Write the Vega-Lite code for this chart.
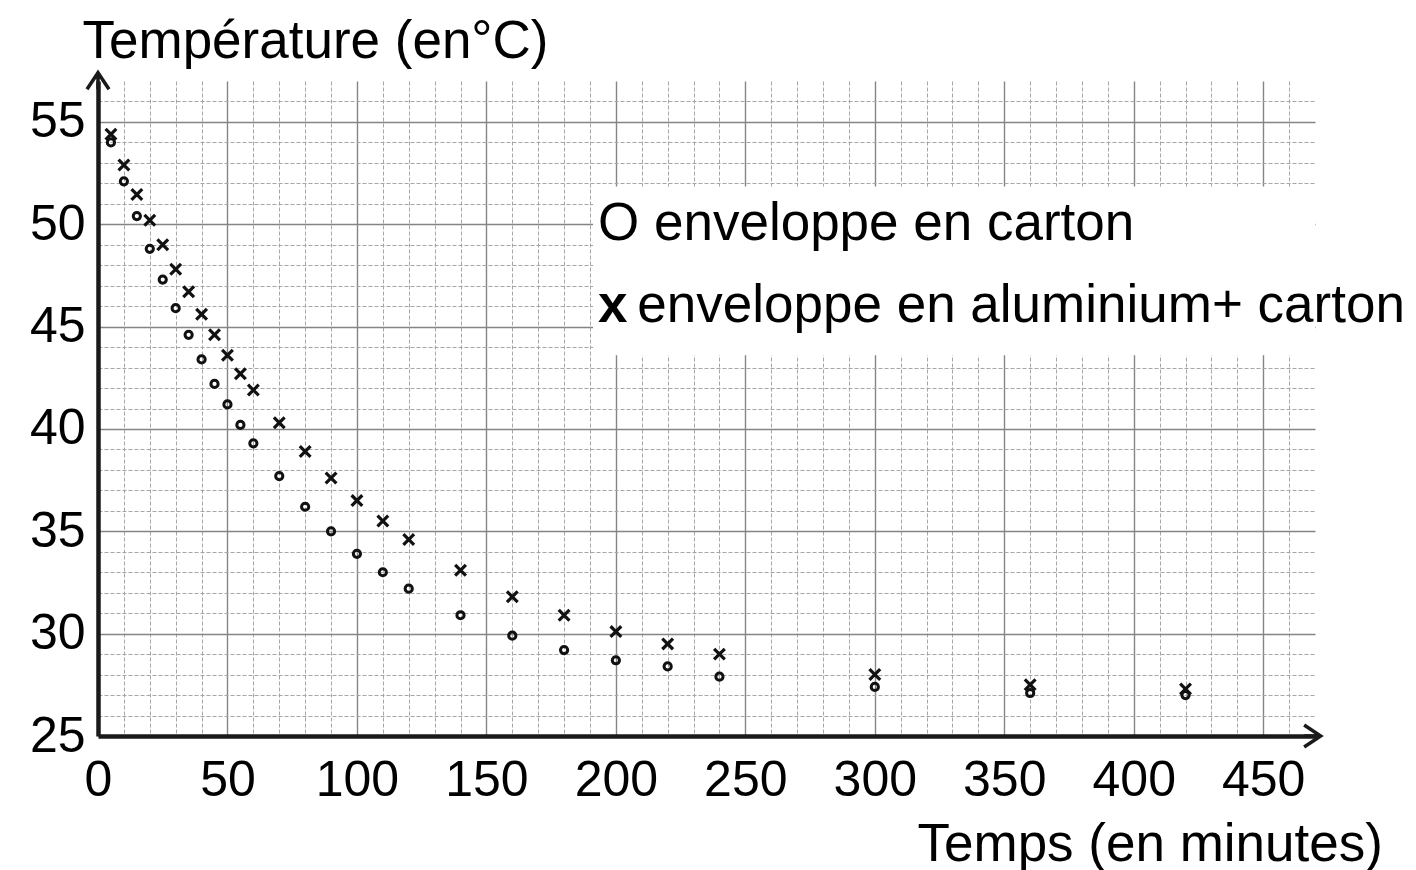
{
  "$schema": "https://vega.github.io/schema/vega-lite/v6.json",
  "width": 1217,
  "height": 655,
  "autosize": {"type": "none"},
  "padding": {"left": 98, "top": 81, "right": 101, "bottom": 134},
  "background": "white",
  "config": {
    "view": {"stroke": null},
    "font": "Liberation Sans",
    "axis": {"labelFont": "Liberation Sans", "titleFont": "Liberation Sans"}
  },
  "datasets": {
    "mesures": [
      {"t": 5, "temp": 54.0, "enveloppe": "carton"},
      {"t": 10, "temp": 52.1, "enveloppe": "carton"},
      {"t": 15, "temp": 50.4, "enveloppe": "carton"},
      {"t": 20, "temp": 48.8, "enveloppe": "carton"},
      {"t": 25, "temp": 47.3, "enveloppe": "carton"},
      {"t": 30, "temp": 45.9, "enveloppe": "carton"},
      {"t": 35, "temp": 44.6, "enveloppe": "carton"},
      {"t": 40, "temp": 43.4, "enveloppe": "carton"},
      {"t": 45, "temp": 42.2, "enveloppe": "carton"},
      {"t": 50, "temp": 41.2, "enveloppe": "carton"},
      {"t": 55, "temp": 40.2, "enveloppe": "carton"},
      {"t": 60, "temp": 39.3, "enveloppe": "carton"},
      {"t": 70, "temp": 37.7, "enveloppe": "carton"},
      {"t": 80, "temp": 36.2, "enveloppe": "carton"},
      {"t": 90, "temp": 35.0, "enveloppe": "carton"},
      {"t": 100, "temp": 33.9, "enveloppe": "carton"},
      {"t": 110, "temp": 33.0, "enveloppe": "carton"},
      {"t": 120, "temp": 32.2, "enveloppe": "carton"},
      {"t": 140, "temp": 30.9, "enveloppe": "carton"},
      {"t": 160, "temp": 29.9, "enveloppe": "carton"},
      {"t": 180, "temp": 29.2, "enveloppe": "carton"},
      {"t": 200, "temp": 28.7, "enveloppe": "carton"},
      {"t": 220, "temp": 28.4, "enveloppe": "carton"},
      {"t": 240, "temp": 27.9, "enveloppe": "carton"},
      {"t": 300, "temp": 27.4, "enveloppe": "carton"},
      {"t": 360, "temp": 27.1, "enveloppe": "carton"},
      {"t": 420, "temp": 27.0, "enveloppe": "carton"},
      {"t": 5, "temp": 54.4, "enveloppe": "aluminium + carton"},
      {"t": 10, "temp": 52.9, "enveloppe": "aluminium + carton"},
      {"t": 15, "temp": 51.45, "enveloppe": "aluminium + carton"},
      {"t": 20, "temp": 50.2, "enveloppe": "aluminium + carton"},
      {"t": 25, "temp": 49.0, "enveloppe": "aluminium + carton"},
      {"t": 30, "temp": 47.8, "enveloppe": "aluminium + carton"},
      {"t": 35, "temp": 46.7, "enveloppe": "aluminium + carton"},
      {"t": 40, "temp": 45.6, "enveloppe": "aluminium + carton"},
      {"t": 45, "temp": 44.6, "enveloppe": "aluminium + carton"},
      {"t": 50, "temp": 43.6, "enveloppe": "aluminium + carton"},
      {"t": 55, "temp": 42.7, "enveloppe": "aluminium + carton"},
      {"t": 60, "temp": 41.9, "enveloppe": "aluminium + carton"},
      {"t": 70, "temp": 40.3, "enveloppe": "aluminium + carton"},
      {"t": 80, "temp": 38.9, "enveloppe": "aluminium + carton"},
      {"t": 90, "temp": 37.6, "enveloppe": "aluminium + carton"},
      {"t": 100, "temp": 36.5, "enveloppe": "aluminium + carton"},
      {"t": 110, "temp": 35.5, "enveloppe": "aluminium + carton"},
      {"t": 120, "temp": 34.6, "enveloppe": "aluminium + carton"},
      {"t": 140, "temp": 33.1, "enveloppe": "aluminium + carton"},
      {"t": 160, "temp": 31.8, "enveloppe": "aluminium + carton"},
      {"t": 180, "temp": 30.9, "enveloppe": "aluminium + carton"},
      {"t": 200, "temp": 30.1, "enveloppe": "aluminium + carton"},
      {"t": 220, "temp": 29.5, "enveloppe": "aluminium + carton"},
      {"t": 240, "temp": 29.0, "enveloppe": "aluminium + carton"},
      {"t": 300, "temp": 28.0, "enveloppe": "aluminium + carton"},
      {"t": 360, "temp": 27.5, "enveloppe": "aluminium + carton"},
      {"t": 420, "temp": 27.3, "enveloppe": "aluminium + carton"}
    ],
    "fond": [
      {"t": 191.2, "t2": 470, "temp": 43.6, "temp2": 51.85}
    ],
    "annotations": [
      {"t": 193.1, "temp": 49.23, "texte": "O enveloppe en carton", "style": "normal"},
      {"t": 193.1, "temp": 45.22, "texte": "x", "style": "gras"},
      {"t": 208.3, "temp": 45.22, "texte": "enveloppe en aluminium+ carton", "style": "normal"}
    ],
    "fleches": [
      {"t": 0, "temp": 57, "sens": "haut"},
      {"t": 469, "temp": 25, "sens": "droite"}
    ]
  },
  "data": {"name": "mesures"},
  "encoding": {
    "x": {
      "field": "t",
      "type": "quantitative",
      "scale": {"domain": [0, 470], "nice": false, "zero": false},
      "axis": {
        "title": "Temps (en minutes)",
        "values": [0,10,20,30,40,50,60,70,80,90,100,110,120,130,140,150,160,170,180,190,200,210,220,230,240,250,260,270,280,290,300,310,320,330,340,350,360,370,380,390,400,410,420,430,440,450,460],
        "labelExpr": "datum.value % 50 === 0 ? datum.label : ''",
        "labelFontSize": 50,
        "labelColor": "black",
        "labelBaseline": "alphabetic",
        "labelPadding": 59,
        "labelOverlap": false,
        "labelFlush": false,
        "labelBound": false,
        "ticks": false,
        "tickSize": 0,
        "domainColor": "#1a1a1a",
        "domainWidth": 4.5,
        "grid": true,
        "gridColor": {"condition": {"test": "datum.value % 50 === 0", "value": "#858585"}, "value": "#a6a6a6"},
        "gridDash": {"condition": {"test": "datum.value % 50 === 0", "value": []}, "value": [4, 2]},
        "gridWidth": {"condition": {"test": "datum.value % 50 === 0", "value": 1.4}, "value": 1},
        "titleFontSize": 53,
        "titleFontWeight": "normal",
        "titleColor": "black",
        "titleAlign": "left",
        "titleBaseline": "alphabetic",
        "titleX": 819,
        "titleY": 124
      }
    },
    "y": {
      "field": "temp",
      "type": "quantitative",
      "scale": {"domain": [25, 57], "nice": false, "zero": false},
      "axis": {
        "title": "Température (en°C)",
        "values": [25,26,27,28,29,30,31,32,33,34,35,36,37,38,39,40,41,42,43,44,45,46,47,48,49,50,51,52,53,54,55,56],
        "labelExpr": "datum.value % 5 === 0 ? datum.label : ''",
        "labelFontSize": 50,
        "labelColor": "black",
        "labelBaseline": "middle",
        "labelPadding": 13,
        "labelOverlap": false,
        "labelFlush": false,
        "labelBound": false,
        "ticks": false,
        "tickSize": 0,
        "domainColor": "#1a1a1a",
        "domainWidth": 4.5,
        "grid": true,
        "gridColor": {"condition": {"test": "datum.value % 5 === 0", "value": "#858585"}, "value": "#a6a6a6"},
        "gridDash": {"condition": {"test": "datum.value % 5 === 0", "value": []}, "value": [4, 2]},
        "gridWidth": {"condition": {"test": "datum.value % 5 === 0", "value": 1.4}, "value": 1},
        "titleFontSize": 53,
        "titleFontWeight": "normal",
        "titleColor": "black",
        "titleAngle": 0,
        "titleAlign": "left",
        "titleBaseline": "alphabetic",
        "titleX": -16,
        "titleY": -24
      }
    }
  },
  "layer": [
    {
      "data": {"name": "fond"},
      "mark": {"type": "rect", "fill": "white", "stroke": null},
      "encoding": {
        "x2": {"field": "t2"},
        "y2": {"field": "temp2"}
      }
    },
    {
      "transform": [{"filter": "datum.enveloppe === 'carton'"}],
      "mark": {"type": "point", "shape": "circle", "filled": false, "size": 52, "strokeWidth": 3, "color": "#111111", "opacity": 1}
    },
    {
      "transform": [{"filter": "datum.enveloppe === 'aluminium + carton'"}],
      "mark": {"type": "point", "shape": "M-1,-1L1,1M-1,1L1,-1", "filled": false, "size": 115, "strokeWidth": 3.2, "color": "#111111", "opacity": 1}
    },
    {
      "data": {"name": "annotations"},
      "transform": [{"filter": "datum.style === 'normal'"}],
      "mark": {"type": "text", "align": "left", "baseline": "alphabetic", "fontSize": 53, "font": "Liberation Sans", "color": "black"},
      "encoding": {"text": {"field": "texte"}}
    },
    {
      "data": {"name": "annotations"},
      "transform": [{"filter": "datum.style === 'gras'"}],
      "mark": {"type": "text", "align": "left", "baseline": "alphabetic", "fontSize": 53, "fontWeight": "bold", "font": "Liberation Sans", "color": "black"},
      "encoding": {"text": {"field": "texte"}}
    },
    {
      "data": {"name": "fleches"},
      "transform": [{"filter": "datum.sens === 'haut'"}],
      "mark": {"type": "point", "shape": "M-1,0.75L0,-0.75L1,0.75M0,-0.75L0,0.75", "filled": false, "size": 484, "strokeWidth": 3.5, "color": "#1a1a1a", "opacity": 1}
    },
    {
      "data": {"name": "fleches"},
      "transform": [{"filter": "datum.sens === 'droite'"}],
      "mark": {"type": "point", "shape": "M-0.75,-1L0.75,0L-0.75,1M0.75,0L-0.75,0", "filled": false, "size": 484, "strokeWidth": 3.5, "color": "#1a1a1a", "opacity": 1}
    }
  ]
}
